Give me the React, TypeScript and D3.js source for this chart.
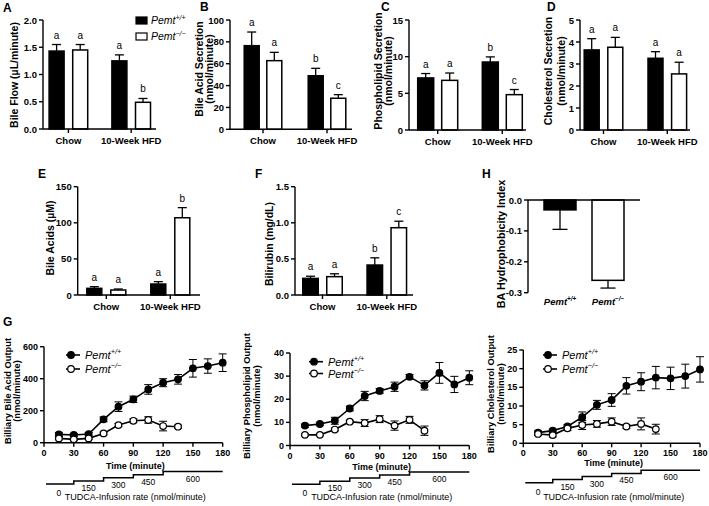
import React from "react";
import * as d3 from "d3";

const FF = "'Liberation Sans', Arial, Helvetica, sans-serif";

// ---------- DATA ----------
const groups = ["Chow", "10-Week HFD"];

// A: Bile flow (µL/minute)
const flowWT = [1.43, 1.25];
const flowWTErr = [0.12, 0.11];
const flowKO = [1.45, 0.49];
const flowKOErr = [0.1, 0.07];
const flowLetWT = ["a", "a"];
const flowLetKO = ["a", "b"];

// B: Bile acid secretion (nmol/minute)
const baSecWT = [76.5, 49];
const baSecWTErr = [12.5, 6.8];
const baSecKO = [62.8, 28.4];
const baSecKOErr = [7.6, 3.3];
const baSecLetWT = ["a", "b"];
const baSecLetKO = ["a", "c"];

// C: Phospholipid secretion (nmol/minute)
const plSecWT = [7.1, 9.27];
const plSecWTErr = [0.6, 0.7];
const plSecKO = [6.77, 4.82];
const plSecKOErr = [1.0, 0.7];
const plSecLetWT = ["a", "b"];
const plSecLetKO = ["a", "c"];

// D: Cholesterol secretion (nmol/minute)
const chSecWT = [3.64, 3.26];
const chSecWTErr = [0.51, 0.3];
const chSecKO = [3.76, 2.55];
const chSecKOErr = [0.45, 0.53];
const chSecLetWT = ["a", "a"];
const chSecLetKO = ["a", "a"];

// E: Bile acids (µM)
const baWT = [9.2, 15.2];
const baWTErr = [2.3, 3.3];
const baKO = [6.9, 107];
const baKOErr = [1.4, 14];
const baLetWT = ["a", "a"];
const baLetKO = ["a", "b"];

// F: Bilirubin (mg/dL)
const bilWT = [0.23, 0.415];
const bilWTErr = [0.03, 0.1];
const bilKO = [0.254, 0.932];
const bilKOErr = [0.04, 0.09];
const bilLetWT = ["a", "b"];
const bilLetKO = ["a", "c"];

// H: BA hydrophobicity index
const hGenotypes = ["WT", "KO"];
const hValues = [-0.032, -0.26];
const hErr = [0.063, 0.025];
const hTicks = [0, -0.1, -0.2, -0.3];

// G: time course
const times = [15, 30, 45, 60, 75, 90, 105, 120, 135, 150, 165, 180];
const timesKO = [15, 30, 45, 60, 75, 90, 105, 120, 135];
const timeTicks = [0, 30, 60, 90, 120, 150, 180];

const g1WT = [52, 48, 54, 146, 225, 271, 333, 375, 396, 465, 479, 500];
const g1WTErr = [12, 10, 10, 15, 30, 20, 30, 25, 30, 55, 45, 55];
const g1KO = [27, 21, 27, 58, 110, 137, 142, 104, 100];
const g1KOErr = [8, 6, 6, 8, 10, 12, 20, 30, 10];

const g2WT = [8.6, 9.3, 10.7, 16, 21.4, 23.6, 25.4, 29.7, 26, 31.4, 26.4, 29.3];
const g2WTErr = [0.7, 0.7, 1.5, 1, 2, 1, 2, 1, 2, 4.5, 3.5, 3];
const g2KO = [4.6, 4.6, 6.9, 10.3, 9.7, 11.4, 8.6, 11.1, 6.4];
const g2KOErr = [0.4, 0.4, 0.6, 0.6, 1.5, 1.5, 2, 1.5, 2];

const g3WT = [2.86, 3.4, 4.5, 7.0, 10.3, 11.6, 15.4, 16.5, 17.6, 17.4, 18.0, 19.8];
const g3WTErr = [0.5, 0.4, 0.5, 1.4, 1.2, 1.7, 2.2, 2.4, 3, 3, 3.2, 3.4];
const g3KO = [2.5, 2.2, 4.0, 4.9, 5.2, 5.8, 4.5, 5.2, 3.8];
const g3KOErr = [0.4, 0.5, 0.6, 1.2, 0.9, 1, 0.5, 1.6, 1.3];

// TUDCA infusion staircase
const infusionRates = ["0", "150", "300", "450", "600"];
const infusionBounds = [0, 30, 60, 90, 120, 180];

// ---------- HELPERS ----------
function Pemt({ x, y, ko, size, bold = false, anchor = "start" }: any) {
  return (
    <text x={x} y={y} fontSize={size} fontStyle="italic" fontWeight={bold ? "bold" : "normal"} textAnchor={anchor}>
      Pemt
      <tspan dy={-size * 0.42} fontSize={size * 0.66}>
        {ko ? "−/−" : "+/+"}
      </tspan>
    </text>
  );
}

function RotLabel({ lines, xs, cy, size = 10.5 }: any) {
  return (
    <g>
      {lines.map((l: string, i: number) => (
        <text
          key={i}
          transform={`translate(${xs[i]},${cy}) rotate(-90)`}
          textAnchor="middle"
          dominantBaseline="central"
          fontSize={size}
          fontWeight="bold"
        >
          {l}
        </text>
      ))}
    </g>
  );
}

function BarPanel(p: any) {
  const y = d3.scaleLinear().domain([0, p.max]).range([p.yBot, p.yTop]);
  const x = d3.scalePoint<string>().domain(groups).range([p.c1, p.c2]);
  const ticks = d3.range(0, p.max + 1e-9, p.step);
  const fmt = d3.format(p.fmt);
  const seriesDefs = [
    { vals: p.wt, errs: p.wtErr, lets: p.wtLet, fill: "#000", dir: -1 },
    { vals: p.ko, errs: p.koErr, lets: p.koLet, fill: "#fff", dir: 1 },
  ];
  return (
    <g>
      <text x={p.lx} y={p.ly} fontSize={12} fontWeight="bold">{p.letter}</text>
      <RotLabel lines={p.ylabel} xs={p.ylabelX} cy={p.ylabelY} size={p.ylabelSize || 10.5} />
      {seriesDefs.map((s, si) =>
        groups.map((g, gi) => {
          const cx = (x(g) as number) + s.dir * p.off;
          const v = s.vals[gi];
          const e = s.errs[gi];
          return (
            <g key={`${si}-${gi}`}>
              <line x1={cx} x2={cx} y1={y(v)} y2={y(v + e)} stroke="#000" strokeWidth={1.3} />
              <line x1={cx - 4.5} x2={cx + 4.5} y1={y(v + e)} y2={y(v + e)} stroke="#000" strokeWidth={1.3} />
              <rect
                x={cx - p.bw / 2}
                y={y(v)}
                width={p.bw}
                height={y(0) - y(v)}
                fill={s.fill}
                stroke="#000"
                strokeWidth={1.5}
              />
              <text x={cx} y={y(v + e) - 6} fontSize={10} textAnchor="middle">{s.lets[gi]}</text>
            </g>
          );
        })
      )}
      {/* y axis */}
      <line x1={p.x0} x2={p.x0} y1={y(p.max)} y2={y(0)} stroke="#000" strokeWidth={1.4} />
      {ticks.map((t: number) => (
        <g key={t}>
          <line x1={p.x0 - 4} x2={p.x0} y1={y(t)} y2={y(t)} stroke="#000" strokeWidth={1.4} />
          <text x={p.x0 - 6} y={y(t)} fontSize={9.5} fontWeight="bold" textAnchor="end" dominantBaseline="central">
            {fmt(t)}
          </text>
        </g>
      ))}
      {/* x axis */}
      <line x1={p.x0} x2={p.x1} y1={y(0)} y2={y(0)} stroke="#000" strokeWidth={1.4} />
      {groups.map((g) => (
        <g key={g}>
          <line x1={x(g)} x2={x(g)} y1={y(0)} y2={y(0) + 4} stroke="#000" strokeWidth={1.4} />
          <text x={x(g)} y={y(0) + 15} fontSize={9.5} fontWeight="bold" textAnchor="middle">{g}</text>
        </g>
      ))}
    </g>
  );
}

function LinePanel(p: any) {
  const x = d3.scaleLinear().domain([0, 180]).range([p.xa, p.xb]);
  const y = d3.scaleLinear().domain([0, p.max]).range([p.yBot, p.yTop]);
  const ticks = d3.range(0, p.max + 1e-9, p.step);
  const line = d3
    .line<[number, number]>()
    .x((d) => x(d[0]))
    .y((d) => y(d[1]));
  const sets = [
    { t: times, v: p.wt, e: p.wtErr, fill: "#000" },
    { t: timesKO, v: p.ko, e: p.koErr, fill: "#fff" },
  ];
  // staircase
  const stairPts: [number, number][] = [];
  infusionRates.forEach((_, i) => {
    const ly = p.stairY - i * 3.1;
    const xs = i === 0 ? x(2) : x(infusionBounds[i]);
    stairPts.push([xs, ly]);
    stairPts.push([x(infusionBounds[i + 1]), ly]);
  });
  const stairPath = d3.line()(stairPts);
  return (
    <g>
      <RotLabel lines={p.ylabel} xs={p.ylabelX} cy={p.ylabelY} size={9.3} />
      {sets.map((s, si) => (
        <g key={si}>
          <path
            d={line(s.t.map((t: number, i: number) => [t, s.v[i]]) as any) || ""}
            fill="none"
            stroke="#000"
            strokeWidth={1.6}
          />
          {s.t.map((t: number, i: number) => (
            <g key={t}>
              <line x1={x(t)} x2={x(t)} y1={y(s.v[i] - s.e[i])} y2={y(s.v[i] + s.e[i])} stroke="#000" strokeWidth={1} />
              <line x1={x(t) - 4} x2={x(t) + 4} y1={y(s.v[i] + s.e[i])} y2={y(s.v[i] + s.e[i])} stroke="#000" strokeWidth={1} />
              <line x1={x(t) - 4} x2={x(t) + 4} y1={y(s.v[i] - s.e[i])} y2={y(s.v[i] - s.e[i])} stroke="#000" strokeWidth={1} />
            </g>
          ))}
          {s.t.map((t: number, i: number) => (
            <circle key={`c${t}`} cx={x(t)} cy={y(s.v[i])} r={3.3} fill={s.fill} stroke="#000" strokeWidth={1.2} />
          ))}
        </g>
      ))}
      {/* axes */}
      <line x1={p.xa} x2={p.xa} y1={y(p.max)} y2={y(0)} stroke="#000" strokeWidth={1.4} />
      {ticks.map((t: number) => (
        <g key={t}>
          <line x1={p.xa - 4} x2={p.xa} y1={y(t)} y2={y(t)} stroke="#000" strokeWidth={1.4} />
          <text x={p.xa - 6} y={y(t)} fontSize={9} fontWeight="bold" textAnchor="end" dominantBaseline="central">
            {t}
          </text>
        </g>
      ))}
      <line x1={p.xa} x2={p.xb} y1={y(0)} y2={y(0)} stroke="#000" strokeWidth={1.4} />
      {timeTicks.map((t) => (
        <g key={t}>
          <line x1={x(t)} x2={x(t)} y1={y(0)} y2={y(0) + 4} stroke="#000" strokeWidth={1.4} />
          <text x={x(t)} y={y(0) + 13} fontSize={9} fontWeight="bold" textAnchor="middle">{t}</text>
        </g>
      ))}
      <text x={x(90) + 2} y={p.timeY} fontSize={9} fontWeight="bold" textAnchor="middle">Time (minute)</text>
      {/* legend */}
      {[0, 1].map((i) => (
        <g key={i}>
          <line x1={p.legX} x2={p.legX + 14} y1={p.legY[i]} y2={p.legY[i]} stroke="#000" strokeWidth={1.6} />
          <circle cx={p.legX + 5} cy={p.legY[i]} r={3.3} fill={i === 0 ? "#000" : "#fff"} stroke="#000" strokeWidth={1.2} />
          <Pemt x={p.legX + 19} y={p.legY[i] + 4} ko={i === 1} size={11} />
        </g>
      ))}
      {/* staircase */}
      <path d={stairPath || ""} fill="none" stroke="#000" strokeWidth={1.5} />
      {infusionRates.map((r, i) => (
        <text
          key={r}
          x={x((infusionBounds[i] + infusionBounds[i + 1]) / 2)}
          y={p.stairY - i * 3.1 + (i === 0 ? 12 : 10)}
          fontSize={8.5}
          textAnchor="middle"
        >
          {r}
        </text>
      ))}
      <text x={x(90) + 2} y={500} fontSize={9} textAnchor="middle">TUDCA-Infusion rate (nmol/minute)</text>
    </g>
  );
}

function HPanel() {
  const dx = 20;
  const y = d3.scaleLinear().domain([-0.3, 0]).range([292.7, 200]);
  const x = d3.scalePoint<string>().domain(hGenotypes).range([540 + dx, 588 + dx]);
  const x0 = 508 + dx;
  return (
    <g>
      <text x={462 + dx} y={178} fontSize={12} fontWeight="bold">H</text>
      <RotLabel lines={["BA Hydrophobicity  Index"]} xs={[481 + dx]} cy={244} size={10.8} />
      {hGenotypes.map((g, i) => {
        const cx = x(g) as number;
        const v = hValues[i];
        const e = hErr[i];
        return (
          <g key={g}>
            <line x1={cx} x2={cx} y1={y(v)} y2={y(v - e)} stroke="#000" strokeWidth={1.3} />
            <line x1={cx - 7.5} x2={cx + 7.5} y1={y(v - e)} y2={y(v - e)} stroke="#000" strokeWidth={1.3} />
            <rect x={cx - 16} y={y(0)} width={32} height={y(v) - y(0)} fill={i === 0 ? "#000" : "#fff"} stroke="#000" strokeWidth={1.5} />
            <Pemt x={cx} y={305} ko={i === 1} size={9.5} bold anchor="middle" />
          </g>
        );
      })}
      <line x1={x0} x2={x0} y1={y(0)} y2={y(-0.3)} stroke="#000" strokeWidth={1.4} />
      {hTicks.map((t) => (
        <g key={t}>
          <line x1={x0 - 4} x2={x0} y1={y(t)} y2={y(t)} stroke="#000" strokeWidth={1.4} />
          <text x={x0 - 6} y={y(t)} fontSize={9.5} fontWeight="bold" textAnchor="end" dominantBaseline="central">
            {t.toFixed(1)}
          </text>
        </g>
      ))}
      <line x1={x0} x2={620 + dx} y1={y(0)} y2={y(0)} stroke="#000" strokeWidth={1.4} />
    </g>
  );
}

export default function App() {
  return (
    <svg
      width={709}
      height={506}
      style={{ position: "absolute", left: 0, top: 0, background: "#fff" }}
      fontFamily={FF}
    >
      <BarPanel
        letter="A" lx={3} ly={12}
        x0={43} x1={156} c1={68.4} c2={131.2} off={11.8} bw={15}
        yTop={20} yBot={129} max={2} step={0.5} fmt=".1f"
        wt={flowWT} wtErr={flowWTErr} ko={flowKO} koErr={flowKOErr} wtLet={flowLetWT} koLet={flowLetKO}
        ylabel={["Bile Flow (µL/minute)"]} ylabelX={[14]} ylabelY={75}
      />
      {/* legend for bar panels */}
      <rect x={136} y={17} width={11} height={7} fill="#000" stroke="#000" strokeWidth={1.2} />
      <rect x={136} y={33} width={11} height={7} fill="#fff" stroke="#000" strokeWidth={1.2} />
      <Pemt x={151} y={24} ko={false} size={10.5} />
      <Pemt x={151} y={40} ko={true} size={10.5} />

      <BarPanel
        letter="B" lx={200} ly={11}
        x0={230} x1={352} c1={263} c2={327} off={11.3} bw={15}
        yTop={20} yBot={129.3} max={100} step={20} fmt="d"
        wt={baSecWT} wtErr={baSecWTErr} ko={baSecKO} koErr={baSecKOErr} wtLet={baSecLetWT} koLet={baSecLetKO}
        ylabel={["Bile Acid Secretion", "(nmol/minute)"]} ylabelX={[199, 209]} ylabelY={69}
      />
      <BarPanel
        letter="C" lx={381} ly={11}
        x0={409} x1={526} c1={437.7} c2={502.3} off={12} bw={16}
        yTop={20} yBot={130} max={15} step={5} fmt="d"
        wt={plSecWT} wtErr={plSecWTErr} ko={plSecKO} koErr={plSecKOErr} wtLet={plSecLetWT} koLet={plSecLetKO}
        ylabel={["Phospholipid Secretion", "(nmol/minute)"]} ylabelX={[377.5, 388]} ylabelY={71}
      />
      <BarPanel
        letter="D" lx={547} ly={11}
        x0={580} x1={690} c1={603.5} c2={667.3} off={11.8} bw={15}
        yTop={20} yBot={130} max={5} step={1} fmt="d"
        wt={chSecWT} wtErr={chSecWTErr} ko={chSecKO} koErr={chSecKOErr} wtLet={chSecLetWT} koLet={chSecLetKO}
        ylabel={["Cholesterol Secretion", "(nmol/minute)"]} ylabelX={[547.5, 561]} ylabelY={71}
      />
      <BarPanel
        letter="E" lx={38} ly={178}
        x0={77.7} x1={200} c1={106.3} c2={170.3} off={12} bw={15}
        yTop={186.7} yBot={295} max={150} step={50} fmt="d"
        wt={baWT} wtErr={baWTErr} ko={baKO} koErr={baKOErr} wtLet={baLetWT} koLet={baLetKO}
        ylabel={["Bile Acids (µM)"]} ylabelX={[50]} ylabelY={238}
      />
      <BarPanel
        letter="F" lx={255} ly={178}
        x0={295} x1={413} c1={322.5} c2={386.8} off={12} bw={15.5}
        yTop={186.7} yBot={295} max={1.5} step={0.5} fmt=".1f"
        wt={bilWT} wtErr={bilWTErr} ko={bilKO} koErr={bilKOErr} wtLet={bilLetWT} koLet={bilLetKO}
        ylabel={["Bilirubin (mg/dL)"]} ylabelX={[269]} ylabelY={244}
      />
      <HPanel />

      <text x={3} y={326} fontSize={12} fontWeight="bold">G</text>
      <LinePanel
        xa={44} xb={222.7} yTop={346.7} yBot={442.7} max={600} step={200}
        wt={g1WT} wtErr={g1WTErr} ko={g1KO} koErr={g1KOErr}
        ylabel={["Billiary Bile Acid Output", "(nmol/minute)"]} ylabelX={[7.5, 17]} ylabelY={391}
        legX={66} legY={[355, 369]} timeY={469} stairY={484}
      />
      <LinePanel
        xa={290} xb={469.3} yTop={353} yBot={445.5} max={40} step={10}
        wt={g2WT} wtErr={g2WTErr} ko={g2KO} koErr={g2KOErr}
        ylabel={["Billiary Phospholipid Output", "(nmol/minute)"]} ylabelX={[247, 257]} ylabelY={396}
        legX={309} legY={[361.7, 373.5]} timeY={470} stairY={484.3}
      />
      <LinePanel
        xa={523.3} xb={700} yTop={350} yBot={443.3} max={25} step={5}
        wt={g3WT} wtErr={g3WTErr} ko={g3KO} koErr={g3KOErr}
        ylabel={["Billiary Cholesterol Output", "(nmol/minute)"]} ylabelX={[491, 501]} ylabelY={394}
        legX={543} legY={[355, 369]} timeY={466} stairY={482.7}
      />
    </svg>
  );
}
